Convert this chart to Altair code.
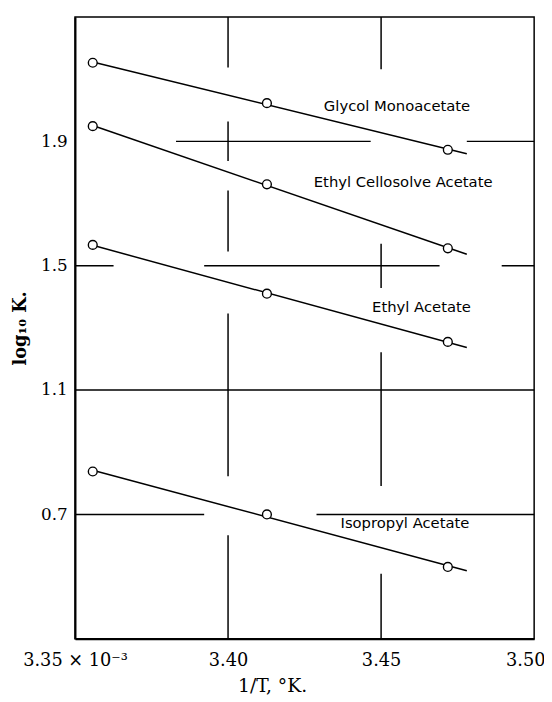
import altair as alt
import pandas as pd

# 1/T values (x 10^-3) of the three measurements
inv_t = [3.3558, 3.4127, 3.4718]
line_end = 3.478

series_names = ["Glycol Monoacetate", "Ethyl Cellosolve Acetate", "Ethyl Acetate", "Isopropyl Acetate"]
glycol = [2.153, 2.023, 1.873]
cellosolve = [1.949, 1.762, 1.556]
ethyl = [1.567, 1.410, 1.255]
isopropyl = [0.838, 0.700, 0.531]

# annotation positions (data units)
label_x = [3.4552, 3.4572, 3.4632, 3.4578]
label_y = [2.0125, 1.7675, 1.366, 0.671]

# broken grid segments
h_grid_y = [1.9, 1.9, 1.5, 1.5, 1.5, 1.1, 0.7, 0.7]
h_grid_x1 = [3.383, 3.478, 3.35, 3.3922, 3.4894, 3.35, 3.35, 3.4289]
h_grid_x2 = [3.4466, 3.50, 3.3626, 3.4691, 3.50, 3.50, 3.3922, 3.50]

v_grid_x = [3.40, 3.40, 3.40, 3.40, 3.40, 3.45, 3.45, 3.45, 3.45]
v_grid_y1 = [2.138, 1.837, 1.546, 0.823, 0.3, 2.132, 1.428, 0.791, 0.3]
v_grid_y2 = [2.3, 1.964, 1.742, 1.346, 0.633, 2.3, 1.571, 1.222, 0.509]

x_ticks = [3.35, 3.40, 3.45, 3.50]
y_ticks = [0.7, 1.1, 1.5, 1.9]

rows = []
for name, vals in zip(series_names, [glycol, cellosolve, ethyl, isopropyl]):
    for xv, yv in zip(inv_t, vals):
        rows.append({"series": name, "x": xv, "y": yv})
pts = pd.DataFrame(rows)

labels = pd.DataFrame({"text": series_names, "x": label_x, "y": label_y})
hg = pd.DataFrame({"y": h_grid_y, "x1": h_grid_x1, "x2": h_grid_x2})
vg = pd.DataFrame({"x": v_grid_x, "y1": v_grid_y1, "y2": v_grid_y2})

xscale = alt.Scale(domain=[3.35, 3.50], nice=False, zero=False)
yscale = alt.Scale(domain=[0.3, 2.3], nice=False, zero=False)

serif = "DejaVu Serif"

xaxis = alt.Axis(
    values=x_ticks,
    labelExpr="datum.value == 3.35 ? '3.35 × 10⁻³' : format(datum.value, '.2f')",
    grid=False, ticks=False, domainColor="black", domainWidth=2,
    labelFont=serif, labelFontSize=18, labelColor="black", labelPadding=13,
    labelFlush=False,
    labelOffset={"condition": {"test": "datum.value == 3.5", "value": -9}, "value": 0},
    title="1/T, °K.", titleFont=serif, titleFontSize=19, titleFontWeight="normal",
    titleColor="black", titleX=200, titleY=54, titleBaseline="alphabetic",
)
yaxis = alt.Axis(
    values=y_ticks, format=".1f",
    grid=False, ticks=False, domainColor="black", domainWidth=2,
    labelFont=serif, labelFontSize=17, labelColor="black", labelPadding=8,
    title="log₁₀ K.", titleFont=serif, titleFontSize=18, titleFontWeight="bold",
    titleColor="black", titleX=-55, titleBaseline="middle",
)

base_x = alt.X("x:Q", scale=xscale, axis=xaxis)
base_y = alt.Y("y:Q", scale=yscale, axis=yaxis)

hgrid = alt.Chart(hg).mark_rule(color="black", strokeWidth=1.5).encode(
    x=alt.X("x1:Q", scale=xscale, axis=xaxis), x2="x2:Q",
    y=alt.Y("y:Q", scale=yscale, axis=yaxis),
)
vgrid = alt.Chart(vg).mark_rule(color="black", strokeWidth=1.5).encode(
    x=alt.X("x:Q", scale=xscale, axis=xaxis),
    y=alt.Y("y1:Q", scale=yscale, axis=yaxis), y2="y2:Q",
)

lines = alt.Chart(pts).transform_regression(
    "x", "y", groupby=["series"], extent=[inv_t[0], line_end]
).mark_line(color="black", strokeWidth=1.5).encode(
    x=base_x, y=base_y, detail="series:N"
)

points = alt.Chart(pts).mark_point(
    shape="circle", size=80, filled=True, fill="white", stroke="black", strokeWidth=1.4, opacity=1
).encode(x=base_x, y=base_y)

texts = alt.Chart(labels).mark_text(
    font="DejaVu Sans", fontSize=15, color="black", align="center", baseline="middle"
).encode(x=base_x, y=base_y, text="text:N")

chart = alt.layer(hgrid, vgrid, lines, points, texts).properties(
    width=466, height=631,
    autosize=alt.AutoSizeParams(type="none"),
    padding={"left": 68, "top": 4, "right": 10, "bottom": 58},
    background="white",
).configure_view(stroke="black", strokeWidth=1.5)

chart.save("out.html", embed_options={"renderer": "svg", "actions": False})
